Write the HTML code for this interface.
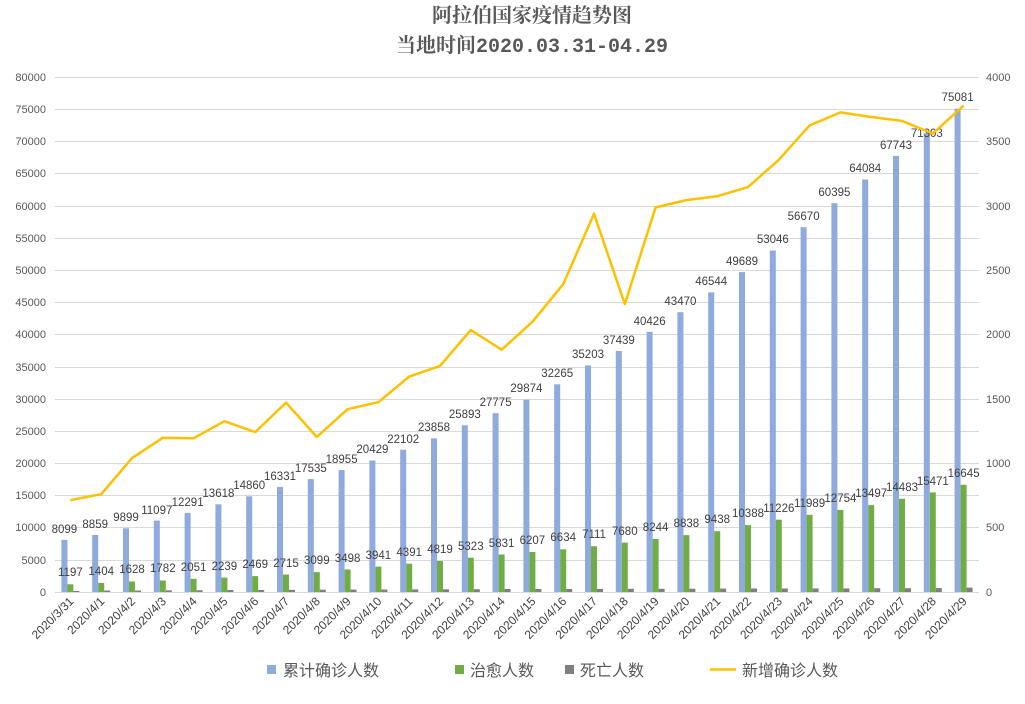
<!DOCTYPE html>
<html><head><meta charset="utf-8"><style>
body{margin:0;background:#fff}
svg{display:block;font-family:"Liberation Sans","Noto Sans CJK SC",sans-serif}
.ax{font-size:11px;fill:#595959}
.lb{font-size:11.5px;fill:#404040;text-anchor:middle}
.xl{font-size:12px;fill:#404040;text-anchor:end}
</style></head><body>
<svg width="1025" height="704" viewBox="0 0 1025 704">
<rect width="1025" height="704" fill="#fff"/>
<text x="532" y="22" text-anchor="middle" font-size="20" font-weight="bold" fill="#595959" font-family="'Liberation Serif','Noto Serif CJK SC',serif">阿拉伯国家疫情趋势图</text>
<text x="532" y="52" text-anchor="middle" font-size="20" font-weight="bold" fill="#595959" font-family="'Liberation Mono','Noto Serif CJK SC',monospace">当地时间2020.03.31-04.29</text>
<g stroke="#d9d9d9" stroke-width="1">
<line x1="55" x2="979" y1="77.5" y2="77.5"/><line x1="55" x2="979" y1="109.5" y2="109.5"/><line x1="55" x2="979" y1="141.5" y2="141.5"/><line x1="55" x2="979" y1="173.5" y2="173.5"/><line x1="55" x2="979" y1="206.5" y2="206.5"/><line x1="55" x2="979" y1="238.5" y2="238.5"/><line x1="55" x2="979" y1="270.5" y2="270.5"/><line x1="55" x2="979" y1="302.5" y2="302.5"/><line x1="55" x2="979" y1="334.5" y2="334.5"/><line x1="55" x2="979" y1="367.5" y2="367.5"/><line x1="55" x2="979" y1="399.5" y2="399.5"/><line x1="55" x2="979" y1="431.5" y2="431.5"/><line x1="55" x2="979" y1="463.5" y2="463.5"/><line x1="55" x2="979" y1="495.5" y2="495.5"/><line x1="55" x2="979" y1="527.5" y2="527.5"/><line x1="55" x2="979" y1="560.5" y2="560.5"/><line x1="55" x2="979" y1="592.5" y2="592.5"/>
</g>
<g class="ax" text-anchor="end">
<text x="46" y="81">80000</text><text x="46" y="113">75000</text><text x="46" y="145">70000</text><text x="46" y="177">65000</text><text x="46" y="210">60000</text><text x="46" y="242">55000</text><text x="46" y="274">50000</text><text x="46" y="306">45000</text><text x="46" y="338">40000</text><text x="46" y="371">35000</text><text x="46" y="403">30000</text><text x="46" y="435">25000</text><text x="46" y="467">20000</text><text x="46" y="499">15000</text><text x="46" y="531">10000</text><text x="46" y="564">5000</text><text x="46" y="596">0</text>
</g>
<g class="ax" text-anchor="start">
<text x="986" y="81">4000</text><text x="986" y="145">3500</text><text x="986" y="210">3000</text><text x="986" y="274">2500</text><text x="986" y="338">2000</text><text x="986" y="403">1500</text><text x="986" y="467">1000</text><text x="986" y="531">500</text><text x="986" y="596">0</text>
</g>
<g id="bars">
<g transform="translate(70.4,0)"><rect x="-9" y="539.9" width="6" height="52.1" fill="#8faadc"/><rect x="-3" y="584.3" width="6" height="7.7" fill="#70ad47"/><rect x="3" y="591" width="6" height="1" fill="#7f7f7f"/><text class="lb" x="-6" y="533">8099</text><text class="lb" x="0" y="576">1197</text><text class="xl" transform="translate(4,602) rotate(-45)">2020/3/31</text></g>
<g transform="translate(101.2,0)"><rect x="-9" y="535" width="6" height="57" fill="#8faadc"/><rect x="-3" y="583" width="6" height="9" fill="#70ad47"/><rect x="3" y="590.5" width="6" height="1.5" fill="#7f7f7f"/><text class="lb" x="-6" y="528">8859</text><text class="lb" x="0" y="575">1404</text><text class="xl" transform="translate(4,602) rotate(-45)">2020/4/1</text></g>
<g transform="translate(132,0)"><rect x="-9" y="528.3" width="6" height="63.7" fill="#8faadc"/><rect x="-3" y="581.5" width="6" height="10.5" fill="#70ad47"/><rect x="3" y="590.5" width="6" height="1.5" fill="#7f7f7f"/><text class="lb" x="-6" y="521">9899</text><text class="lb" x="0" y="573">1628</text><text class="xl" transform="translate(4,602) rotate(-45)">2020/4/2</text></g>
<g transform="translate(162.8,0)"><rect x="-9" y="520.6" width="6" height="71.4" fill="#8faadc"/><rect x="-3" y="580.5" width="6" height="11.5" fill="#70ad47"/><rect x="3" y="590.3" width="6" height="1.7" fill="#7f7f7f"/><text class="lb" x="-6" y="514">11097</text><text class="lb" x="0" y="572">1782</text><text class="xl" transform="translate(4,602) rotate(-45)">2020/4/3</text></g>
<g transform="translate(193.6,0)"><rect x="-9" y="512.9" width="6" height="79.1" fill="#8faadc"/><rect x="-3" y="578.8" width="6" height="13.2" fill="#70ad47"/><rect x="3" y="590.2" width="6" height="1.8" fill="#7f7f7f"/><text class="lb" x="-6" y="506">12291</text><text class="lb" x="0" y="571">2051</text><text class="xl" transform="translate(4,602) rotate(-45)">2020/4/4</text></g>
<g transform="translate(224.4,0)"><rect x="-9" y="504.3" width="6" height="87.7" fill="#8faadc"/><rect x="-3" y="577.6" width="6" height="14.4" fill="#70ad47"/><rect x="3" y="590" width="6" height="2" fill="#7f7f7f"/><text class="lb" x="-6" y="497">13618</text><text class="lb" x="0" y="570">2239</text><text class="xl" transform="translate(4,602) rotate(-45)">2020/4/5</text></g>
<g transform="translate(255.2,0)"><rect x="-9" y="496.3" width="6" height="95.7" fill="#8faadc"/><rect x="-3" y="576.1" width="6" height="15.9" fill="#70ad47"/><rect x="3" y="590" width="6" height="2" fill="#7f7f7f"/><text class="lb" x="-6" y="489">14860</text><text class="lb" x="0" y="568">2469</text><text class="xl" transform="translate(4,602) rotate(-45)">2020/4/6</text></g>
<g transform="translate(286,0)"><rect x="-9" y="486.9" width="6" height="105.1" fill="#8faadc"/><rect x="-3" y="574.5" width="6" height="17.5" fill="#70ad47"/><rect x="3" y="589.8" width="6" height="2.2" fill="#7f7f7f"/><text class="lb" x="-6" y="480">16331</text><text class="lb" x="0" y="567">2715</text><text class="xl" transform="translate(4,602) rotate(-45)">2020/4/7</text></g>
<g transform="translate(316.8,0)"><rect x="-9" y="479.1" width="6" height="112.9" fill="#8faadc"/><rect x="-3" y="572.1" width="6" height="19.9" fill="#70ad47"/><rect x="3" y="589.7" width="6" height="2.3" fill="#7f7f7f"/><text class="lb" x="-6" y="472">17535</text><text class="lb" x="0" y="564">3099</text><text class="xl" transform="translate(4,602) rotate(-45)">2020/4/8</text></g>
<g transform="translate(347.6,0)"><rect x="-9" y="470" width="6" height="122" fill="#8faadc"/><rect x="-3" y="569.5" width="6" height="22.5" fill="#70ad47"/><rect x="3" y="589.6" width="6" height="2.4" fill="#7f7f7f"/><text class="lb" x="-6" y="463">18955</text><text class="lb" x="0" y="562">3498</text><text class="xl" transform="translate(4,602) rotate(-45)">2020/4/9</text></g>
<g transform="translate(378.4,0)"><rect x="-9" y="460.5" width="6" height="131.5" fill="#8faadc"/><rect x="-3" y="566.6" width="6" height="25.4" fill="#70ad47"/><rect x="3" y="589.5" width="6" height="2.5" fill="#7f7f7f"/><text class="lb" x="-6" y="453">20429</text><text class="lb" x="0" y="559">3941</text><text class="xl" transform="translate(4,602) rotate(-45)">2020/4/10</text></g>
<g transform="translate(409.2,0)"><rect x="-9" y="449.7" width="6" height="142.3" fill="#8faadc"/><rect x="-3" y="563.7" width="6" height="28.3" fill="#70ad47"/><rect x="3" y="589.4" width="6" height="2.6" fill="#7f7f7f"/><text class="lb" x="-6" y="443">22102</text><text class="lb" x="0" y="556">4391</text><text class="xl" transform="translate(4,602) rotate(-45)">2020/4/11</text></g>
<g transform="translate(440,0)"><rect x="-9" y="438.4" width="6" height="153.6" fill="#8faadc"/><rect x="-3" y="561" width="6" height="31" fill="#70ad47"/><rect x="3" y="589.3" width="6" height="2.7" fill="#7f7f7f"/><text class="lb" x="-6" y="431">23858</text><text class="lb" x="0" y="553">4819</text><text class="xl" transform="translate(4,602) rotate(-45)">2020/4/12</text></g>
<g transform="translate(470.8,0)"><rect x="-9" y="425.3" width="6" height="166.7" fill="#8faadc"/><rect x="-3" y="557.7" width="6" height="34.3" fill="#70ad47"/><rect x="3" y="589.2" width="6" height="2.8" fill="#7f7f7f"/><text class="lb" x="-6" y="418">25893</text><text class="lb" x="0" y="550">5323</text><text class="xl" transform="translate(4,602) rotate(-45)">2020/4/13</text></g>
<g transform="translate(501.6,0)"><rect x="-9" y="413.2" width="6" height="178.8" fill="#8faadc"/><rect x="-3" y="554.5" width="6" height="37.5" fill="#70ad47"/><rect x="3" y="589" width="6" height="3" fill="#7f7f7f"/><text class="lb" x="-6" y="406">27775</text><text class="lb" x="0" y="547">5831</text><text class="xl" transform="translate(4,602) rotate(-45)">2020/4/14</text></g>
<g transform="translate(532.4,0)"><rect x="-9" y="399.7" width="6" height="192.3" fill="#8faadc"/><rect x="-3" y="552" width="6" height="40" fill="#70ad47"/><rect x="3" y="589" width="6" height="3" fill="#7f7f7f"/><text class="lb" x="-6" y="392">29874</text><text class="lb" x="0" y="544">6207</text><text class="xl" transform="translate(4,602) rotate(-45)">2020/4/15</text></g>
<g transform="translate(563.2,0)"><rect x="-9" y="384.3" width="6" height="207.7" fill="#8faadc"/><rect x="-3" y="549.3" width="6" height="42.7" fill="#70ad47"/><rect x="3" y="589" width="6" height="3" fill="#7f7f7f"/><text class="lb" x="-6" y="377">32265</text><text class="lb" x="0" y="541">6634</text><text class="xl" transform="translate(4,602) rotate(-45)">2020/4/16</text></g>
<g transform="translate(594,0)"><rect x="-9" y="365.4" width="6" height="226.6" fill="#8faadc"/><rect x="-3" y="546.2" width="6" height="45.8" fill="#70ad47"/><rect x="3" y="588.9" width="6" height="3.1" fill="#7f7f7f"/><text class="lb" x="-6" y="358">35203</text><text class="lb" x="0" y="538">7111</text><text class="xl" transform="translate(4,602) rotate(-45)">2020/4/17</text></g>
<g transform="translate(624.8,0)"><rect x="-9" y="351" width="6" height="241" fill="#8faadc"/><rect x="-3" y="542.6" width="6" height="49.4" fill="#70ad47"/><rect x="3" y="588.8" width="6" height="3.2" fill="#7f7f7f"/><text class="lb" x="-6" y="344">37439</text><text class="lb" x="0" y="535">7680</text><text class="xl" transform="translate(4,602) rotate(-45)">2020/4/18</text></g>
<g transform="translate(655.6,0)"><rect x="-9" y="331.8" width="6" height="260.2" fill="#8faadc"/><rect x="-3" y="538.9" width="6" height="53.1" fill="#70ad47"/><rect x="3" y="588.8" width="6" height="3.2" fill="#7f7f7f"/><text class="lb" x="-6" y="325">40426</text><text class="lb" x="0" y="531">8244</text><text class="xl" transform="translate(4,602) rotate(-45)">2020/4/19</text></g>
<g transform="translate(686.4,0)"><rect x="-9" y="312.2" width="6" height="279.8" fill="#8faadc"/><rect x="-3" y="535.1" width="6" height="56.9" fill="#70ad47"/><rect x="3" y="588.7" width="6" height="3.3" fill="#7f7f7f"/><text class="lb" x="-6" y="305">43470</text><text class="lb" x="0" y="527">8838</text><text class="xl" transform="translate(4,602) rotate(-45)">2020/4/20</text></g>
<g transform="translate(717.2,0)"><rect x="-9" y="292.4" width="6" height="299.6" fill="#8faadc"/><rect x="-3" y="531.2" width="6" height="60.8" fill="#70ad47"/><rect x="3" y="588.6" width="6" height="3.4" fill="#7f7f7f"/><text class="lb" x="-6" y="285">46544</text><text class="lb" x="0" y="523">9438</text><text class="xl" transform="translate(4,602) rotate(-45)">2020/4/21</text></g>
<g transform="translate(748,0)"><rect x="-9" y="272.1" width="6" height="319.9" fill="#8faadc"/><rect x="-3" y="525.1" width="6" height="66.9" fill="#70ad47"/><rect x="3" y="588.5" width="6" height="3.5" fill="#7f7f7f"/><text class="lb" x="-6" y="265">49689</text><text class="lb" x="0" y="517">10388</text><text class="xl" transform="translate(4,602) rotate(-45)">2020/4/22</text></g>
<g transform="translate(778.8,0)"><rect x="-9" y="250.5" width="6" height="341.5" fill="#8faadc"/><rect x="-3" y="519.7" width="6" height="72.3" fill="#70ad47"/><rect x="3" y="588.5" width="6" height="3.5" fill="#7f7f7f"/><text class="lb" x="-6" y="243">53046</text><text class="lb" x="0" y="512">11226</text><text class="xl" transform="translate(4,602) rotate(-45)">2020/4/23</text></g>
<g transform="translate(809.6,0)"><rect x="-9" y="227.2" width="6" height="364.8" fill="#8faadc"/><rect x="-3" y="514.8" width="6" height="77.2" fill="#70ad47"/><rect x="3" y="588.4" width="6" height="3.6" fill="#7f7f7f"/><text class="lb" x="-6" y="220">56670</text><text class="lb" x="0" y="507">11989</text><text class="xl" transform="translate(4,602) rotate(-45)">2020/4/24</text></g>
<g transform="translate(840.4,0)"><rect x="-9" y="203.2" width="6" height="388.8" fill="#8faadc"/><rect x="-3" y="509.9" width="6" height="82.1" fill="#70ad47"/><rect x="3" y="588.4" width="6" height="3.6" fill="#7f7f7f"/><text class="lb" x="-6" y="196">60395</text><text class="lb" x="0" y="502">12754</text><text class="xl" transform="translate(4,602) rotate(-45)">2020/4/25</text></g>
<g transform="translate(871.2,0)"><rect x="-9" y="179.5" width="6" height="412.5" fill="#8faadc"/><rect x="-3" y="505.1" width="6" height="86.9" fill="#70ad47"/><rect x="3" y="588.2" width="6" height="3.8" fill="#7f7f7f"/><text class="lb" x="-6" y="172">64084</text><text class="lb" x="0" y="497">13497</text><text class="xl" transform="translate(4,602) rotate(-45)">2020/4/26</text></g>
<g transform="translate(902,0)"><rect x="-9" y="155.9" width="6" height="436.1" fill="#8faadc"/><rect x="-3" y="498.8" width="6" height="93.2" fill="#70ad47"/><rect x="3" y="588.2" width="6" height="3.8" fill="#7f7f7f"/><text class="lb" x="-6" y="149">67743</text><text class="lb" x="0" y="491">14483</text><text class="xl" transform="translate(4,602) rotate(-45)">2020/4/27</text></g>
<g transform="translate(932.8,0)"><rect x="-9" y="133" width="6" height="459" fill="#8faadc"/><rect x="-3" y="492.4" width="6" height="99.6" fill="#70ad47"/><rect x="3" y="588.1" width="6" height="3.9" fill="#7f7f7f"/><text class="lb" x="-6" y="137">71303</text><text class="lb" x="0" y="485">15471</text><text class="xl" transform="translate(4,602) rotate(-45)">2020/4/28</text></g>
<g transform="translate(963.6,0)"><rect x="-9" y="108.7" width="6" height="483.3" fill="#8faadc"/><rect x="-3" y="484.8" width="6" height="107.2" fill="#70ad47"/><rect x="3" y="587.6" width="6" height="4.4" fill="#7f7f7f"/><text class="lb" x="-6" y="101">75081</text><text class="lb" x="0" y="477">16645</text><text class="xl" transform="translate(4,602) rotate(-45)">2020/4/29</text></g>
</g>
<polyline fill="none" stroke="#ffc000" stroke-width="2.5" stroke-linejoin="round" points="70.4,500.1 101.2,494.2 132,458.1 162.8,437.8 193.6,438.3 224.4,421.2 255.2,432.1 286,402.6 316.8,437 347.6,409.2 378.4,402.2 409.2,376.6 440,365.9 470.8,330 501.6,349.7 532.4,321.8 563.2,284.2 594,213.7 624.8,304.1 655.6,207.4 686.4,200.1 717.2,196.2 748,187.1 778.8,159.8 809.6,125.4 840.4,112.4 871.2,117 902,120.9 932.8,133.6 963.6,105.6"/>
<g font-size="16" fill="#595959">
<rect x="267" y="665" width="9" height="9" fill="#8faadc"/><text x="283" y="676">累计确诊人数</text>
<rect x="455" y="665" width="9" height="9" fill="#70ad47"/><text x="470" y="676">治愈人数</text>
<rect x="565" y="665" width="9" height="9" fill="#7f7f7f"/><text x="580" y="676">死亡人数</text>
<line x1="710" x2="736" y1="669.5" y2="669.5" stroke="#ffc000" stroke-width="2.5"/><text x="742" y="676">新增确诊人数</text>
</g>
</svg>
</body></html>
